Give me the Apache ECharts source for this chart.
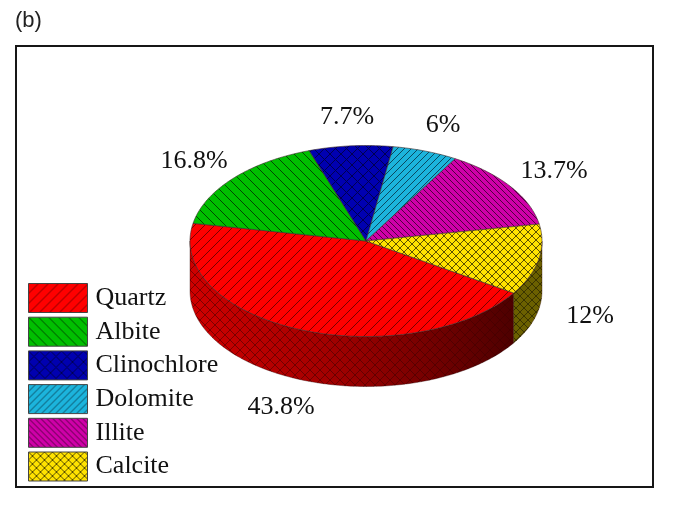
<!DOCTYPE html>
<html>
<head>
<meta charset="utf-8">
<style>html,body{margin:0;padding:0;background:#fff}#pie3d{width:674px;height:512px}</style>
<script src="https://cdn.jsdelivr.net/npm/echarts@6/dist/echarts.min.js"></script>
</head>
<body>
<div id="pie3d"></div>
<script>
var minerals = ['Quartz', 'Albite', 'Clinochlore', 'Dolomite', 'Illite', 'Calcite'];
var shares = [43.8, 16.8, 7.7, 6, 13.7, 12];

var topColors = ['#ff0000', '#00bf00', '#0000b0', '#1cb4dc', '#cf00a8', '#ffe200'];
var hatchDir = ['/', '\\', 'x', '/', '\\', 'x'];
var hatchSize = [10, 10, 11, 7, 6, 8];
var hatchInk = ['#7a0000', '#004a00', '#000050', '#0a4a60', '#50003f', '#5a5000'];
// label centres, one per mineral
var labelX = [281, 194, 347, 443, 554, 590];
var labelY = [407, 161, 117, 125, 171, 316];

// ellipse of the top face
var cx = 366, cy = 241, rx = 176, ry = 95.5, depth = 50;
var startAngle = 33; // degrees clockwise from 3 o'clock

var serif = '"Liberation Serif", "Times New Roman", serif';

function makeTile(bg, dir, size, ink) {
	var c = document.createElement('canvas');
	c.width = size;
	c.height = size;
	var g = c.getContext('2d');
	if (bg) {
		g.fillStyle = bg;
		g.fillRect(0, 0, size, size);
	}
	g.strokeStyle = ink;
	g.lineWidth = 1;
	g.beginPath();
	if (dir !== '\\') {
		g.moveTo(-1, size + 1); g.lineTo(size + 1, -1);
		g.moveTo(-1, 1); g.lineTo(1, -1);
		g.moveTo(size - 1, size + 1); g.lineTo(size + 1, size - 1);
	}
	if (dir !== '/') {
		g.moveTo(-1, -1); g.lineTo(size + 1, size + 1);
		g.moveTo(size - 1, -1); g.lineTo(size + 1, 1);
		g.moveTo(-1, size - 1); g.lineTo(1, size + 1);
	}
	g.stroke();
	return {image: c, repeat: 'repeat'};
}

function point(deg, dy) {
	var a = deg * Math.PI / 180;
	return [cx + rx * Math.cos(a), cy + ry * Math.sin(a) + (dy || 0)];
}

function arcPoints(from, to, dy) {
	var pts = [];
	for (var d = from; d < to; d += 1) {
		pts.push(point(d, dy));
	}
	pts.push(point(to, dy));
	return pts;
}

// the part of the slice that faces the viewer, lower half of the ellipse
function frontRange(from, to) {
	var a = Math.max(from, 0), b = Math.min(to, 180);
	if (b > a) return [a, b];
	a = Math.max(from, 360); b = Math.min(to, 540);
	if (b > a) return [a, b];
	return null;
}

function sideFill(i) {
	if (i === 0) {
		return {
			type: 'linear', x: cx - rx, y: 0, x2: 513, y2: 0, global: true,
			colorStops: [
				{offset: 0, color: '#d00000'},
				{offset: 0.45, color: '#a00000'},
				{offset: 1, color: '#4e0000'}
			]
		};
	}
	return '#6b6000';
}

function renderSlice(params, api) {
	var i = params.seriesIndex;
	var before = 0;
	for (var k = 0; k < i; k++) before += shares[k];
	var from = startAngle + before * 3.6;
	var to = from + api.value(0) * 3.6;
	var children = [];

	var front = frontRange(from, to);
	if (front) {
		var top = arcPoints(front[0], front[1], 0);
		var low = arcPoints(front[0], front[1], depth).reverse();
		var side = top.concat(low);
		children.push({type: 'polygon', shape: {points: side}, style: {fill: sideFill(i), stroke: null}});
		children.push({
			type: 'polygon', shape: {points: side},
			style: {
				fill: makeTile(null, i === 0 ? 'x' : hatchDir[i], hatchSize[i], i === 0 ? 'rgba(60,0,0,0.55)' : '#3a3400'),
				stroke: 'rgba(40,0,0,0.6)', lineWidth: 0.6
			}
		});
	}

	var face = [[cx, cy]].concat(arcPoints(from, to, 0));
	children.push({
		type: 'polygon', shape: {points: face},
		style: {fill: tiles[i], stroke: '#3a2a2a', lineWidth: 0.6}
	});
	children.push({
		type: 'text', silent: true, z2: 10,
		style: {
			text: api.value(0) + '%', x: labelX[i], y: labelY[i],
			align: 'center', verticalAlign: 'middle',
			fill: '#111', font: '26px ' + serif
		}
	});
	return {type: 'group', children: children};
}

var tiles = minerals.map(function(m, i) {
	return makeTile(topColors[i], hatchDir[i], hatchSize[i], hatchInk[i]);
});

var pieChart = echarts.init(document.getElementById('pie3d'));
var option = {
	backgroundColor: '#fff',
	animation: false,
	graphic: [
		{type: 'rect', shape: {x: 16, y: 46, width: 637, height: 441}, style: {fill: 'none', stroke: '#161616', lineWidth: 2}},
		{type: 'text', style: {text: '(b)', x: 15, y: 10, fill: '#222', font: '22px "Liberation Sans", Arial, sans-serif'}}
	],
	legend: {
		orient: 'vertical',
		left: 28,
		top: 283,
		padding: 0,
		itemWidth: 59,
		itemHeight: 29,
		itemGap: 3.7,
		icon: 'rect',
		selectedMode: false,
		data: minerals,
		itemStyle: {borderColor: '#444', borderWidth: 1},
		textStyle: {color: '#111', fontFamily: serif, fontSize: 26, padding: [0, 0, 0, 3]}
	},
	series: minerals.map(function(name, i) {
		return {
			name: name,
			type: 'custom',
			coordinateSystem: 'none',
			renderItem: renderSlice,
			itemStyle: {color: tiles[i]},
			data: [[shares[i]]]
		};
	})
};
pieChart.setOption(option);
</script>
</body>
</html>
